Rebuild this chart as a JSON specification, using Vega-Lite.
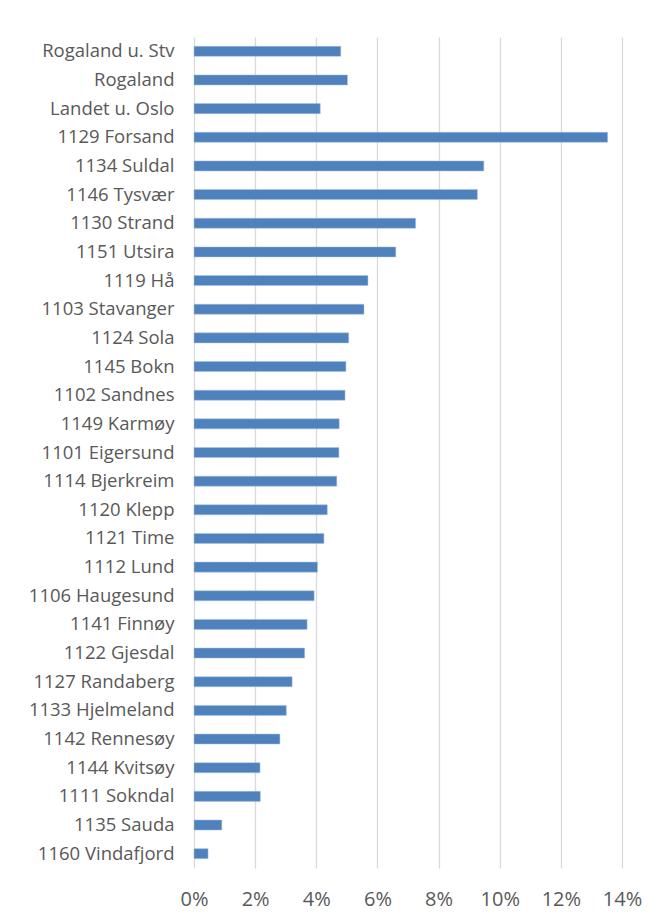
{
  "$schema": "https://vega.github.io/schema/vega-lite/v6.json",
  "autosize": {"type": "none"},
  "width": 428,
  "height": 831,
  "padding": {"left": 194, "top": 37, "right": 42, "bottom": 56},
  "background": "white",
  "data": {
    "values": [
      {"navn": "Rogaland u. Stv", "verdi": 4.80},
      {"navn": "Rogaland", "verdi": 5.02},
      {"navn": "Landet u. Oslo", "verdi": 4.13},
      {"navn": "1129 Forsand", "verdi": 13.53},
      {"navn": "1134 Suldal", "verdi": 9.48},
      {"navn": "1146 Tysvær", "verdi": 9.27},
      {"navn": "1130 Strand", "verdi": 7.25},
      {"navn": "1151 Utsira", "verdi": 6.60},
      {"navn": "1119 Hå", "verdi": 5.69},
      {"navn": "1103 Stavanger", "verdi": 5.56},
      {"navn": "1124 Sola", "verdi": 5.06},
      {"navn": "1145 Bokn", "verdi": 4.97},
      {"navn": "1102 Sandnes", "verdi": 4.94},
      {"navn": "1149 Karmøy", "verdi": 4.75},
      {"navn": "1101 Eigersund", "verdi": 4.74},
      {"navn": "1114 Bjerkreim", "verdi": 4.67},
      {"navn": "1120 Klepp", "verdi": 4.36},
      {"navn": "1121 Time", "verdi": 4.25},
      {"navn": "1112 Lund", "verdi": 4.04},
      {"navn": "1106 Haugesund", "verdi": 3.93},
      {"navn": "1141 Finnøy", "verdi": 3.70},
      {"navn": "1122 Gjesdal", "verdi": 3.62},
      {"navn": "1127 Randaberg", "verdi": 3.21},
      {"navn": "1133 Hjelmeland", "verdi": 3.02},
      {"navn": "1142 Rennesøy", "verdi": 2.81},
      {"navn": "1144 Kvitsøy", "verdi": 2.16},
      {"navn": "1111 Sokndal", "verdi": 2.17},
      {"navn": "1135 Sauda", "verdi": 0.91},
      {"navn": "1160 Vindafjord", "verdi": 0.46}
    ]
  },
  "mark": {"type": "bar", "color": "#4f81bd", "stroke": "#a9c1e0", "strokeWidth": 0.5},
  "encoding": {
    "y": {
      "field": "navn",
      "type": "nominal",
      "sort": null,
      "scale": {"paddingInner": 0.65, "paddingOuter": 0.325},
      "axis": {
        "title": null,
        "ticks": false,
        "domain": false,
        "grid": false,
        "labelPadding": 20,
        "labelFont": "Open Sans",
        "labelFontSize": 18.5,
        "labelColor": "#595959",
        "labelLimit": 300
      }
    },
    "x": {
      "field": "verdi",
      "type": "quantitative",
      "scale": {"domain": [0, 14], "nice": false, "zero": true},
      "axis": {
        "title": null,
        "values": [0, 2, 4, 6, 8, 10, 12, 14],
        "labelExpr": "datum.value + '%'",
        "labelFlush": false,
        "labelOverlap": false,
        "ticks": false,
        "domain": false,
        "grid": true,
        "gridColor": "#d9d9d9",
        "gridWidth": 1.3,
        "labelPadding": 21,
        "labelFont": "Open Sans",
        "labelFontSize": 20,
        "labelColor": "#595959"
      }
    }
  },
  "config": {"view": {"stroke": null}}
}
